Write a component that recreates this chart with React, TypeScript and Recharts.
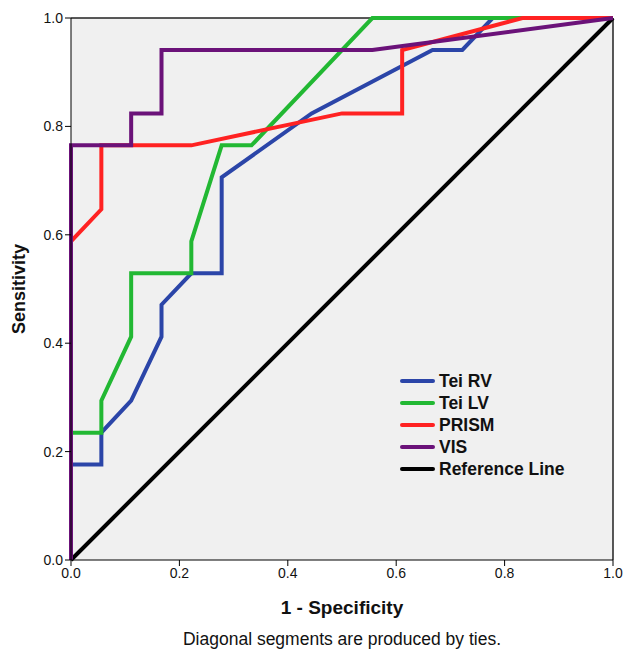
import React from "react";
import {
  LineChart,
  Line,
  XAxis,
  YAxis,
  CartesianGrid,
  ReferenceLine,
} from "recharts";

// ROC curves: 18 negatives (steps of 1/18), 17 positives (steps of 1/17)
const teiRV = [
  { x: 0, y: 0 }, { x: 0, y: 0.176 }, { x: 0.056, y: 0.176 }, { x: 0.056, y: 0.235 },
  { x: 0.111, y: 0.294 }, { x: 0.167, y: 0.412 }, { x: 0.167, y: 0.471 }, { x: 0.222, y: 0.529 },
  { x: 0.278, y: 0.529 }, { x: 0.278, y: 0.706 }, { x: 0.444, y: 0.824 }, { x: 0.667, y: 0.941 },
  { x: 0.722, y: 0.941 }, { x: 0.778, y: 1 }, { x: 1, y: 1 },
];
const teiLV = [
  { x: 0, y: 0 }, { x: 0, y: 0.235 }, { x: 0.056, y: 0.235 }, { x: 0.056, y: 0.294 },
  { x: 0.111, y: 0.412 }, { x: 0.111, y: 0.529 }, { x: 0.222, y: 0.529 }, { x: 0.222, y: 0.588 },
  { x: 0.278, y: 0.765 }, { x: 0.333, y: 0.765 }, { x: 0.556, y: 1 }, { x: 1, y: 1 },
];
const prism = [
  { x: 0, y: 0 }, { x: 0, y: 0.588 }, { x: 0.056, y: 0.647 }, { x: 0.056, y: 0.765 },
  { x: 0.222, y: 0.765 }, { x: 0.5, y: 0.824 }, { x: 0.611, y: 0.824 }, { x: 0.611, y: 0.941 },
  { x: 0.833, y: 1 }, { x: 1, y: 1 },
];
const vis = [
  { x: 0, y: 0 }, { x: 0, y: 0.765 }, { x: 0.111, y: 0.765 }, { x: 0.111, y: 0.824 },
  { x: 0.167, y: 0.824 }, { x: 0.167, y: 0.941 }, { x: 0.556, y: 0.941 }, { x: 1, y: 1 },
];
const refLine = [{ x: 0, y: 0 }, { x: 1, y: 1 }];

const ticks = [0, 0.2, 0.4, 0.6, 0.8, 1.0];

const legendItems = [
  { name: "Tei RV", color: "#2b45a8" },
  { name: "Tei LV", color: "#22b833" },
  { name: "PRISM", color: "#ff2222" },
  { name: "VIS", color: "#6b1279" },
  { name: "Reference Line", color: "#000000" },
];

const font = "'Liberation Sans', Arial, sans-serif";

export default function App() {
  const W = 4;
  return (
    <div style={{ position: "absolute", left: 0, top: 0, width: 623, height: 653, background: "#fff" }}>
      <LineChart width={623} height={653} margin={{ top: 18, right: 10, left: 0, bottom: 63 }}>
        <CartesianGrid fill="#f0f0f0" horizontal={false} vertical={false} />
        <XAxis
          type="number"
          dataKey="x"
          domain={[0, 1]}
          ticks={ticks}
          tickFormatter={(v: number) => v.toFixed(1)}
          stroke="#000"
          tick={{ fill: "#111", fontSize: 14, fontFamily: font }}
          tickSize={6}
          height={30}
        />
        <YAxis
          type="number"
          dataKey="y"
          domain={[0, 1]}
          ticks={ticks}
          tickFormatter={(v: number) => v.toFixed(1)}
          stroke="#000"
          tick={{ fill: "#111", fontSize: 14, fontFamily: font }}
          tickSize={6}
          width={71}
        />
        <ReferenceLine y={1} stroke="#222" strokeWidth={1.5} />
        <ReferenceLine x={1} stroke="#222" strokeWidth={1.5} />
        <Line data={refLine} dataKey="y" type="linear" stroke="#000" strokeWidth={W} dot={false} isAnimationActive={false} />
        <Line data={teiRV} dataKey="y" type="linear" stroke="#2b45a8" strokeWidth={W} dot={false} isAnimationActive={false} />
        <Line data={teiLV} dataKey="y" type="linear" stroke="#22b833" strokeWidth={W} dot={false} isAnimationActive={false} />
        <Line data={prism} dataKey="y" type="linear" stroke="#ff2222" strokeWidth={W} dot={false} isAnimationActive={false} />
        <Line data={vis} dataKey="y" type="linear" stroke="#6b1279" strokeWidth={W} dot={false} isAnimationActive={false} />
      </LineChart>

      {/* legend inside the plot */}
      <div style={{ position: "absolute", left: 400, top: 370, fontFamily: font, fontWeight: "bold", fontSize: 17.5, color: "#111" }}>
        {legendItems.map((it) => (
          <div key={it.name} style={{ display: "flex", alignItems: "center", height: 22 }}>
            <span style={{ display: "inline-block", width: 35, height: 4, borderRadius: 2, background: it.color, marginRight: 4 }} />
            <span>{it.name}</span>
          </div>
        ))}
      </div>

      <div style={{ position: "absolute", left: 71, width: 542, top: 597, textAlign: "center", fontFamily: font, fontWeight: "bold", fontSize: 19, color: "#111" }}>
        1 - Specificity
      </div>
      <div style={{ position: "absolute", left: 71, width: 542, top: 629, textAlign: "center", fontFamily: font, fontSize: 17.5, color: "#111" }}>
        Diagonal segments are produced by ties.
      </div>
      <div style={{ position: "absolute", left: 19, top: 289, width: 0, height: 0 }}>
        <div style={{ position: "absolute", transform: "translate(-50%, -50%) rotate(-90deg)", whiteSpace: "nowrap", fontFamily: font, fontWeight: "bold", fontSize: 18, color: "#111" }}>
          Sensitivity
        </div>
      </div>
    </div>
  );
}
